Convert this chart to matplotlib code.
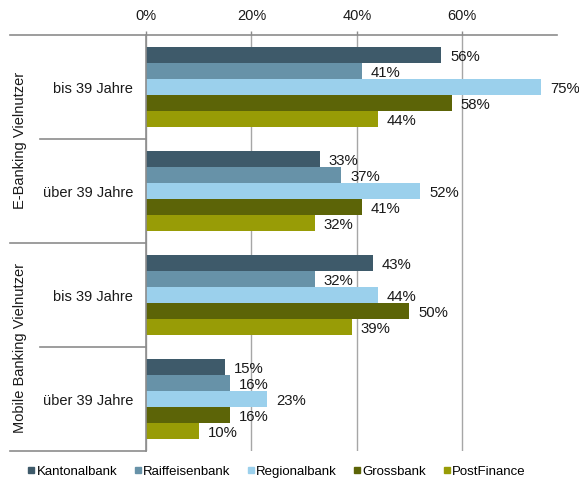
import matplotlib
matplotlib.use("Agg")
import matplotlib.pyplot as plt
from matplotlib.lines import Line2D
import matplotlib.transforms as mtransforms
import numpy as np

plt.rcParams['font.family'] = ['Liberation Sans', 'DejaVu Sans']

banks = ["Kantonalbank", "Raiffeisenbank", "Regionalbank", "Grossbank", "PostFinance"]
colors = ["#3e5a6a", "#6792a8", "#9bd0ec", "#5c6407", "#989c06"]
subgroups = ["bis 39 Jahre", "über 39 Jahre", "bis 39 Jahre", "über 39 Jahre"]
groups = ["E-Banking Vielnutzer", "Mobile Banking Vielnutzer"]
values = {
    "Kantonalbank":   [56, 33, 43, 15],
    "Raiffeisenbank": [41, 37, 32, 16],
    "Regionalbank":   [75, 52, 44, 23],
    "Grossbank":      [58, 41, 50, 16],
    "PostFinance":    [44, 32, 39, 10],
}
xticks = [0, 20, 40, 60]

W, H = 579, 481
fig = plt.figure(figsize=(W / 100, H / 100), dpi=100)
left, right, top, bottom = 146, 557, 36, 452
ax = fig.add_axes([left / W, 1 - bottom / H, (right - left) / W, (bottom - top) / H])

n = len(banks)
bh = 0.154
pos = np.arange(len(subgroups))
for i, b in enumerate(banks):
    y = pos - (n - 1) / 2 * bh + i * bh
    ax.barh(y, values[b], height=bh, color=colors[i], clip_on=False, zorder=3)
    off = mtransforms.offset_copy(ax.transData, fig=fig, x=9, y=-1, units='dots')
    for yy, v in zip(y, values[b]):
        ax.text(v, yy, f"{v}%", transform=off, va='center', ha='left',
                fontsize=10.7, color='#1a1a1a', zorder=4)

ax.set_xlim(0, 78)
ax.set_ylim(len(subgroups) - 0.5, -0.5)
ax.set_xticks(xticks)
ax.set_xticklabels([f"{t}%" for t in xticks], fontsize=10.5, color='#1a1a1a')
ax.xaxis.tick_top()
ax.tick_params(axis='x', length=3, width=1, color='#8c8c8c', pad=6)
ax.set_yticks(pos)
ax.set_yticklabels(subgroups, fontsize=10.5, color='#1a1a1a')
ax.tick_params(axis='y', length=0, pad=9.4)
ax.grid(axis='x', color='#a6a6a6', linewidth=1, zorder=0)
ax.set_axisbelow(True)
for s in ['right', 'bottom', 'top']:
    ax.spines[s].set_visible(False)
ax.spines['left'].set_color('#8c8c8c')
ax.spines['left'].set_linewidth(1.2)
ax.spines['left'].set_zorder(5)

trans = mtransforms.blended_transform_factory(ax.transAxes, ax.transData)
x_far = (10 - left) / (right - left)
x_near = (40 - left) / (right - left)
# top line (spans whole width)
ax.add_line(Line2D([x_far, 1], [-0.5, -0.5], transform=trans, color='#8c8c8c',
                   linewidth=1.2, clip_on=False))
for yb, xs in [(0.5, x_near), (1.5, x_far), (2.5, x_near), (3.5, x_far)]:
    ax.add_line(Line2D([xs, 0], [yb, yb], transform=trans, color='#8c8c8c',
                       linewidth=1.2, clip_on=False))

x_grp = (20 - left) / (right - left)
for gi, g in enumerate(groups):
    ax.text(x_grp, 0.5 + 2 * gi, g, transform=trans, rotation=90, ha='center',
            va='center', fontsize=10.5, color='#1a1a1a')

handles = [Line2D([], [], marker='s', linestyle='none', markersize=5,
                  color=c) for c in colors]
fig.legend(handles, banks, loc='center', bbox_to_anchor=(0.478, 1 - 472 / H),
           ncol=5, frameon=False, fontsize=9.5, handlelength=0.5,
           handletextpad=0.15, columnspacing=1.3, borderaxespad=0)

fig.savefig("out.png", dpi=100)
